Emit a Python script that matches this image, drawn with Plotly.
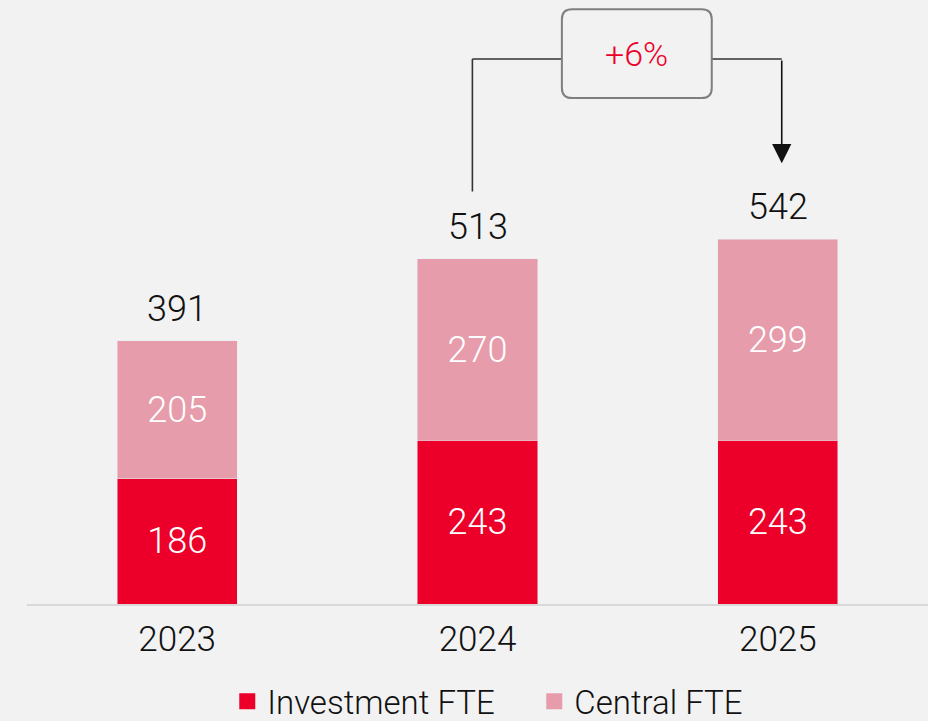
import plotly.graph_objects as go

# Headcount by year, split into investment and central FTE
years = ["2023", "2024", "2025"]
investment_fte = [186, 243, 243]
central_fte = [205, 270, 299]
totals = [a + b for a, b in zip(investment_fte, central_fte)]

RED = "#EC002A"
PINK = "#E69CAA"
BG = "#F2F2F2"
INK = "#111111"
FONT = "Roboto, Liberation Sans, Arial, sans-serif"
WEIGHT = 300

Y_MAX = 897.6  # value range so the whole canvas above the baseline is in data units

fig = go.Figure()

for name, vals, color in (("Investment FTE", investment_fte, RED),
                          ("Central FTE", central_fte, PINK)):
    fig.add_trace(go.Bar(
        x=years, y=vals, name=name,
        marker=dict(color=color), width=0.4,
        text=[str(v) for v in vals], textposition="inside",
        insidetextanchor="middle", textangle=0, constraintext="none",
        textfont=dict(color="white", size=36, family=FONT, weight=WEIGHT),
        showlegend=False, hoverinfo="skip",
    ))

# Legend entries with larger square swatches
for name, color in (("Investment FTE", RED), ("Central FTE", PINK)):
    fig.add_trace(go.Scatter(
        x=[None], y=[None], mode="markers", name=name,
        marker=dict(symbol="square", size=16, color=color),
        showlegend=True,
    ))

# Totals above each stack (category positions by index)
for i, tot in enumerate(totals):
    fig.add_annotation(
        x=i, y=tot, xref="x", yref="y", text=str(tot), showarrow=False,
        yanchor="middle", yshift=32,
        font=dict(size=36, color=INK, family=FONT, weight=WEIGHT),
    )

# Growth bracket from 2024 to 2025
growth = round((totals[2] / totals[1] - 1) * 100)
i_from, i_to = 1, 2
x_left = i_from - 0.017
x_right = i_to + 0.013
y_start = totals[i_from] + 100
y_bracket = max(totals) + 268
y_tip = totals[i_to] + 113
box_x0, box_x1 = 1.281, 1.780
box_y0, box_y1 = 752, 884
rx, ry = 0.034, 15.0

LINE = dict(color="#333333", width=1.6)
fig.add_shape(type="line", xref="x", yref="y",
              x0=x_left, x1=x_left, y0=y_start, y1=y_bracket, line=LINE)
fig.add_shape(type="line", xref="x", yref="y",
              x0=x_left, x1=box_x0, y0=y_bracket, y1=y_bracket, line=LINE)
fig.add_shape(type="line", xref="x", yref="y",
              x0=box_x1, x1=x_right, y0=y_bracket, y1=y_bracket, line=LINE)
fig.add_annotation(
    x=x_right, y=y_tip, ax=x_right, ay=y_bracket,
    xref="x", yref="y", axref="x", ayref="y",
    text="", showarrow=True, arrowhead=2, arrowsize=2.4,
    arrowwidth=1.6, arrowcolor="#111111", standoff=0, startstandoff=0,
)

# Rounded box holding the growth figure
box_path = (
    f"M {box_x0 + rx},{box_y0} L {box_x1 - rx},{box_y0} "
    f"Q {box_x1},{box_y0} {box_x1},{box_y0 + ry} "
    f"L {box_x1},{box_y1 - ry} Q {box_x1},{box_y1} {box_x1 - rx},{box_y1} "
    f"L {box_x0 + rx},{box_y1} Q {box_x0},{box_y1} {box_x0},{box_y1 - ry} "
    f"L {box_x0},{box_y0 + ry} Q {box_x0},{box_y0} {box_x0 + rx},{box_y0} Z"
)
fig.add_shape(type="path", xref="x", yref="y", path=box_path,
              line=dict(color="#7F7F7F", width=2), fillcolor=BG)
fig.add_annotation(
    x=(box_x0 + box_x1) / 2, y=(box_y0 + box_y1) / 2,
    xref="x", yref="y", text=f"+{growth}%", showarrow=False,
    font=dict(size=34, color=RED, family=FONT, weight=WEIGHT),
)

fig.update_layout(
    width=928, height=721,
    margin=dict(l=27, r=0, t=0, b=117, autoexpand=False),
    paper_bgcolor=BG, plot_bgcolor=BG,
    barmode="stack", bargap=0.6,
    font=dict(family=FONT, color=INK, weight=WEIGHT),
    legend=dict(
        orientation="h", x=0.563, xanchor="center",
        y=-0.161, yanchor="middle", traceorder="normal",
        font=dict(size=33, color=INK, family=FONT, weight=WEIGHT),
        itemsizing="trace", bgcolor="rgba(0,0,0,0)",
        entrywidth=262, entrywidthmode="pixels",
    ),
    xaxis=dict(
        type="category", range=[-0.5, 2.5],
        showline=True, linecolor="#D9D9D9", linewidth=2,
        showgrid=False, zeroline=False, ticks="", ticklabelstandoff=3,
        tickfont=dict(size=35, color=INK, family=FONT, weight=WEIGHT),
    ),
    yaxis=dict(
        range=[0, Y_MAX], visible=False, showgrid=False, zeroline=False,
    ),
)

fig.write_html("out.html")
